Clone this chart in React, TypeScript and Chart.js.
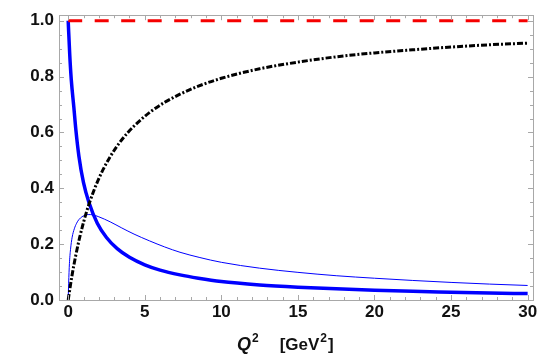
import React, { useEffect, useRef } from "react";
import { Chart, registerables } from "chart.js";

Chart.register(...registerables);

// Q^2 values and curves
const thickQ = [0, 0.1, 0.2, 0.37, 0.5, 0.7, 1.0, 1.35, 1.9, 2.5, 3.2, 4.0, 5.0, 6.0, 7.3, 8.5, 10, 12.5, 15, 17.5, 20, 22.5, 25, 27.5, 30];
const thickV = [1.0, 0.88, 0.79, 0.69, 0.61, 0.515, 0.42, 0.35, 0.275, 0.224, 0.184, 0.153, 0.126, 0.107, 0.09, 0.078, 0.066, 0.054, 0.046, 0.04, 0.035, 0.031, 0.028, 0.025, 0.023];

const thinQ = [0, 0.03, 0.08, 0.15, 0.26, 0.4, 0.55, 0.7, 0.9, 1.1, 1.35, 1.6, 2.0, 2.74, 3.5, 4.3, 5.3, 6.3, 7.3, 8.6, 10, 12.5, 15, 17.5, 20, 22.5, 25, 27.5, 30];
const thinV = [0, 0.06, 0.13, 0.18, 0.225, 0.255, 0.275, 0.288, 0.298, 0.304, 0.306, 0.305, 0.298, 0.28, 0.258, 0.236, 0.212, 0.19, 0.171, 0.152, 0.135, 0.114, 0.099, 0.087, 0.078, 0.07, 0.063, 0.057, 0.052];

const blackQ = [0, 0.25, 0.5, 0.75, 1.0, 1.35, 2.0, 2.74, 3.5, 4.3, 5.35, 6.3, 7.3, 8.5, 10, 12.5, 15, 17.5, 20, 22.5, 25, 27.5, 30];
const blackV = [0, 0.088, 0.161, 0.224, 0.278, 0.342, 0.435, 0.513, 0.574, 0.623, 0.673, 0.708, 0.737, 0.766, 0.794, 0.828, 0.852, 0.871, 0.885, 0.896, 0.906, 0.914, 0.92];

const redQ = [0, 30];
const redV = [1, 1];

const xTicks = [0, 5, 10, 15, 20, 25, 30];
const yTicks = [0, 0.2, 0.4, 0.6, 0.8, 1.0];
const xMinor = [0, 1, 2, 3, 4, 5, 6, 7, 8, 9, 10, 11, 12, 13, 14, 15, 16, 17, 18, 19, 20, 21, 22, 23, 24, 25, 26, 27, 28, 29, 30];
const yMinor = [0, 0.05, 0.1, 0.15, 0.2, 0.25, 0.3, 0.35, 0.4, 0.45, 0.5, 0.55, 0.6, 0.65, 0.7, 0.75, 0.8, 0.85, 0.9, 0.95, 1.0];

const FONT = "'Liberation Sans', Arial, sans-serif";

const pts = (xs: number[], ys: number[]) => xs.map((x, i) => ({ x, y: ys[i] }));

const framePlugin = {
  id: "frame",
  afterDraw(chart: any) {
    const { ctx, chartArea } = chart;
    const xs = chart.scales.x;
    const ys = chart.scales.y;
    const { left, right, top, bottom } = chartArea;
    ctx.save();
    ctx.strokeStyle = "#a8a8a8";
    ctx.lineWidth = 1;
    ctx.strokeRect(Math.round(left) + 0.5, Math.round(top) + 0.5, Math.round(right - left), Math.round(bottom - top));
    ctx.beginPath();
    xMinor.forEach((v) => {
      const px = Math.round(xs.getPixelForValue(v)) + 0.5;
      const len = xTicks.includes(v) ? 5 : 3;
      ctx.moveTo(px, bottom);
      ctx.lineTo(px, bottom - len);
      ctx.moveTo(px, top);
      ctx.lineTo(px, top + len);
    });
    yMinor.forEach((v) => {
      const py = Math.round(ys.getPixelForValue(v)) + 0.5;
      const major = yTicks.some((t) => Math.abs(t - v) < 1e-9);
      const len = major ? 5 : 3;
      ctx.moveTo(left, py);
      ctx.lineTo(left + len, py);
      ctx.moveTo(right, py);
      ctx.lineTo(right - len, py);
    });
    ctx.stroke();

    // axis title: Q^2  [GeV^2]
    ctx.fillStyle = "#111";
    ctx.textBaseline = "alphabetic";
    ctx.textAlign = "left";
    const base = 350;
    let x = 237;
    ctx.font = `italic bold 18px ${FONT}`;
    ctx.fillText("Q", x, base);
    x += ctx.measureText("Q").width + 1;
    ctx.font = `bold 12px ${FONT}`;
    ctx.fillText("2", x, base - 8);
    x += ctx.measureText("2").width;
    ctx.font = `bold 17px ${FONT}`;
    x += 21;
    ctx.fillText("[GeV", x, base);
    x += ctx.measureText("[GeV").width + 1;
    ctx.font = `bold 12px ${FONT}`;
    ctx.fillText("2", x, base - 8);
    x += ctx.measureText("2").width + 1;
    ctx.font = `bold 17px ${FONT}`;
    ctx.fillText("]", x, base);
    ctx.restore();
  },
};

export default function App() {
  const ref = useRef<HTMLCanvasElement>(null);
  useEffect(() => {
    document.body.style.margin = "0";
    const canvas = ref.current!;
    const common = { showLine: true, pointRadius: 0, fill: false, cubicInterpolationMode: "monotone" as const };
    const chart = new Chart(canvas, {
      type: "scatter",
      data: {
        datasets: [
          { ...common, data: pts(redQ, redV), borderColor: "rgb(245,0,0)", borderWidth: 3, borderDash: [14, 12.5] },
          { ...common, data: pts(blackQ, blackV), borderColor: "#000", borderWidth: 3, borderDash: [6, 2, 2, 2] },
          { ...common, data: pts(thickQ, thickV), borderColor: "rgb(0,0,255)", borderWidth: 3.5 },
          { ...common, data: pts(thinQ, thinV), borderColor: "rgb(0,0,255)", borderWidth: 1 },
        ],
      },
      options: {
        animation: false,
        responsive: true,
        maintainAspectRatio: false,
        layout: { padding: { top: 5, right: 7, left: 0, bottom: 0 } },
        plugins: { legend: { display: false }, tooltip: { enabled: false } },
        scales: {
          x: {
            type: "linear",
            min: -0.6,
            max: 30.35,
            grid: { display: false, drawTicks: false },
            border: { display: false },
            afterBuildTicks: (s: any) => {
              s.ticks = xTicks.map((v) => ({ value: v }));
            },
            afterFit: (s: any) => {
              s.height = 58;
            },
            ticks: {
              font: { family: FONT, size: 17, weight: "bold" },
              color: "#111",
              padding: 2,
              maxRotation: 0,
              callback: (v: any) => String(v),
            },
          },
          y: {
            type: "linear",
            min: 0,
            max: 1.02,
            grid: { display: false, drawTicks: false },
            border: { display: false },
            afterBuildTicks: (s: any) => {
              s.ticks = yTicks.map((v) => ({ value: v }));
            },
            afterFit: (s: any) => {
              s.width = 59;
            },
            ticks: {
              font: { family: FONT, size: 17, weight: "bold" },
              color: "#111",
              padding: 5,
              callback: (v: any) => Number(v).toFixed(1),
            },
          },
        },
      },
      plugins: [framePlugin],
    });
    return () => chart.destroy();
  }, []);
  return (
    <div style={{ position: "absolute", left: 0, top: 0, width: 540, height: 358 }}>
      <canvas ref={ref} />
    </div>
  );
}
